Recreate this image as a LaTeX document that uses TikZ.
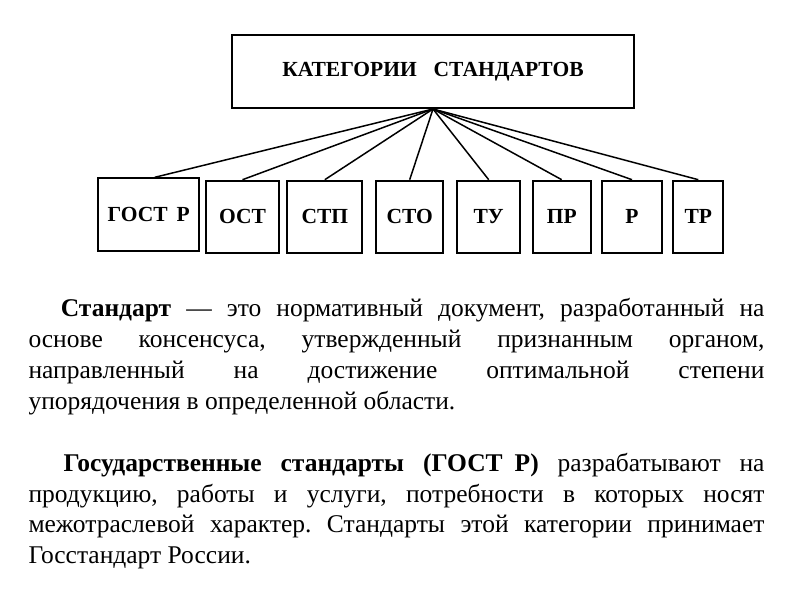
\documentclass[tikz,border=0pt]{standalone}
\usepackage{fontspec}
\setmainfont{Liberation Serif}[BoldFont={Liberation Serif Bold}]
\newfontfamily\cond[BoldFont={Liberation Serif Bold}]{Liberation Serif}
\newfontfamily\lbl[BoldFont={Liberation Serif Bold}]{Liberation Serif}
\usetikzlibrary{calc}
\tikzset{
  box/.style={draw=black, line width=2pt, inner sep=0pt, minimum height=72pt,
    font=\lbl\fontsize{21.5}{24}\selectfont\bfseries},
  link/.style={draw=black, line width=1.5pt},
  para/.style={inner sep=0pt, anchor=base west}
}
\begin{document}
\begin{tikzpicture}[x=1pt,y=-1pt]
\useasboundingbox (0,0) rectangle (800,600);
\node[box, minimum width=402pt, minimum height=73pt] (top) at (433,71.5) {КАТЕГОРИИ\hspace{17pt}СТАНДАРТОВ};
\node[box, minimum width=101pt, minimum height=72.4pt] (g) at (148.8,214.5) {ГОСТ\hspace{9pt}Р};
\node[box, minimum width=73.6pt] (o) at (242.5,216.7) {ОСТ};
\node[box, minimum width=75pt] (stp) at (324.8,216.7) {СТП};
\node[box, minimum width=67.3pt] (sto) at (409.7,216.7) {СТО};
\node[box, minimum width=62.7pt] (tu) at (488.7,216.7) {ТУ};
\node[box, minimum width=58pt] (pr) at (561.7,216.7) {ПР};
\node[box, minimum width=59.4pt] (r) at (632,216.7) {Р};
\node[box, minimum width=50pt] (tr) at (698.3,216.7) {ТР};
\draw[link] (top.south) -- ($(g.north)+(6,0)$);
\foreach \n in {o,stp,sto,tu,pr,r,tr}{\draw[link] (top.south) -- (\n.north);}
\node[para] (p1) at (28.3,316.7) {\parbox[t]{736pt}{\cond\fontsize{25.5}{31}\selectfont\frenchspacing
\hyphenpenalty=10000 \tolerance=9999 \noindent\hspace{32.4pt}\textbf{Стандарт} — это нормативный документ, разработанный на\linebreak основе консенсуса, утвержденный признанным органом,\linebreak направленный на достижение оптимальной степени\linebreak упорядочения в определенной области.}};
\node[para] (p2) at (28.3,471.5) {\parbox[t]{736pt}{\cond\fontsize{25.5}{30.7}\selectfont\frenchspacing
\hyphenpenalty=10000 \tolerance=9999 \noindent\hspace{35pt}\textbf{Государственные стандарты (ГОСТ\hspace{12pt}Р)} разрабатывают на\linebreak продукцию, работы и услуги, потребности в которых носят\linebreak межотраслевой характер. Стандарты этой категории принимает\linebreak Госстандарт России.}};
\end{tikzpicture}
\end{document}
